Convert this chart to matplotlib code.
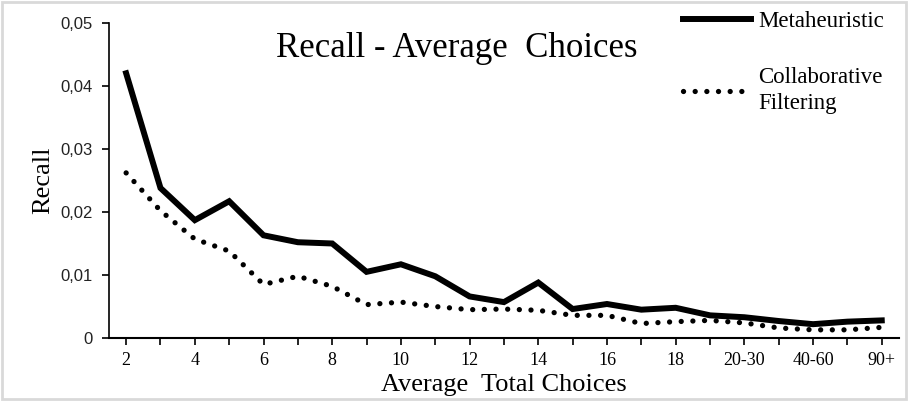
import matplotlib.pyplot as plt
from matplotlib.patches import Rectangle

plt.rcParams['font.family'] = ['Liberation Serif', 'DejaVu Serif']

categories = ["2", "3", "4", "5", "6", "7", "8", "9", "10", "11", "12", "13",
              "14", "15", "16", "17", "18", "19", "20-30", "30-40", "40-60",
              "60-90", "90+"]
metaheuristic = [0.0420, 0.0238, 0.0187, 0.0217, 0.0163, 0.0152, 0.0150,
                 0.0105, 0.0117, 0.0098, 0.0066, 0.0057, 0.0088, 0.0046,
                 0.0054, 0.0045, 0.0048, 0.0036, 0.0033, 0.0027, 0.0022,
                 0.0026, 0.0028]
collaborative = [0.0262, 0.0202, 0.0157, 0.0138, 0.0085, 0.0098, 0.0082,
                 0.0053, 0.0057, 0.0050, 0.0045, 0.0046, 0.0044, 0.0036,
                 0.0036, 0.0023, 0.0026, 0.0028, 0.0024, 0.0016, 0.0013,
                 0.0013, 0.0017]
y_ticks = [0, 0.01, 0.02, 0.03, 0.04, 0.05]
y_labels = ["0", "0,01", "0,02", "0,03", "0,04", "0,05"]

fig = plt.figure(figsize=(9.08, 4.01), dpi=100)
ax = fig.add_axes([0.120, 0.157, 0.870, 0.786])

x = list(range(len(categories)))
ax.plot(x, metaheuristic, color='black', lw=4.3, solid_joinstyle='miter',
        label='Metaheuristic')
ax.plot(x, collaborative, color='black', lw=3.8, linestyle=(0, (0.01, 2.2)),
        dash_capstyle='round', label='Collaborative\nFiltering')

ax.set_xlim(-0.5, len(categories) - 0.5)
ax.set_ylim(0, 0.05)
ax.set_xticks(x)
ax.set_xticklabels([c if i % 2 == 0 else "" for i, c in enumerate(categories)],
                   fontsize=13)
ax.set_yticks(y_ticks)
ax.set_yticklabels(y_labels)
ax.tick_params(axis='both', direction='out', length=5, width=1.2, pad=5)
ax.tick_params(axis='y', pad=7)
for t in ax.get_yticklabels():
    t.set_fontfamily(['Liberation Sans', 'DejaVu Sans'])
    t.set_fontsize(12)
    t.set_color('#222222')

for s in ['top', 'right']:
    ax.spines[s].set_visible(False)
ax.spines['left'].set_linewidth(1.2)
ax.spines['bottom'].set_linewidth(1.5)

ax.set_ylabel("Recall", fontsize=19, labelpad=4)
ax.set_xlabel("Average  Total Choices", fontsize=19, labelpad=4)
fig.text(0.503, 0.88, "Recall - Average  Choices", fontsize=25, ha='center',
         va='center')

leg = fig.legend(loc='upper left', bbox_to_anchor=(0.729, 1.025), frameon=False,
                 fontsize=16.5, handlelength=3.0, handletextpad=0.3,
                 labelspacing=1.55)
for t in leg.get_texts():
    t.set_linespacing(1.3)

fig.patches.append(Rectangle((0.002, 0.004), 0.996, 0.99, transform=fig.transFigure,
                             fill=False, edgecolor='#d9d9d9', lw=2))

fig.savefig("out.png", dpi=100)
